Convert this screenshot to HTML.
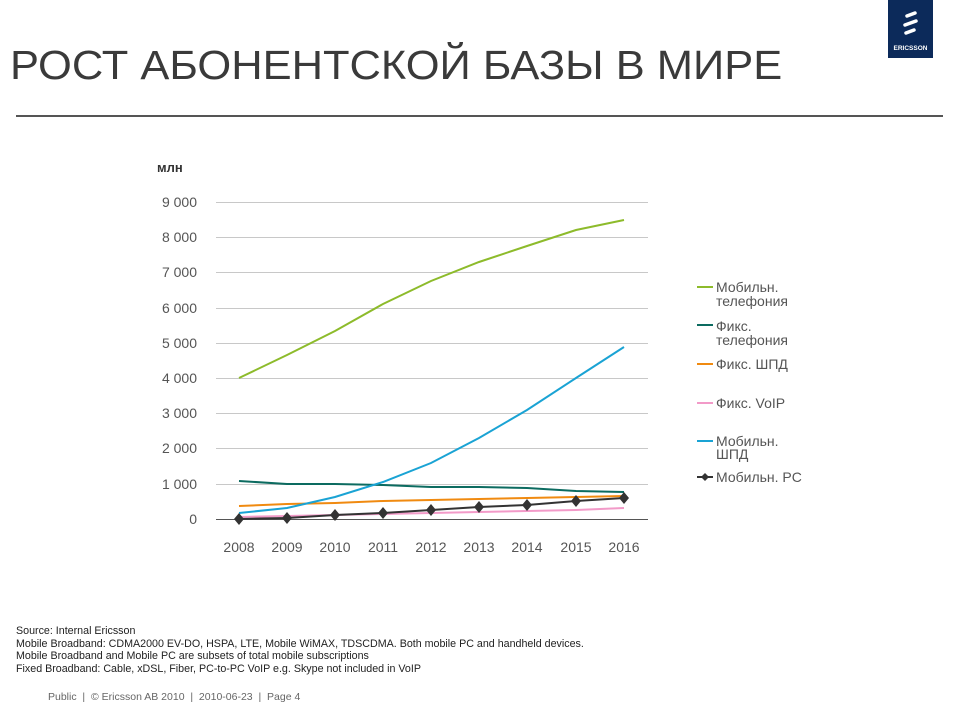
<!DOCTYPE html>
<html><head><meta charset="utf-8"><style>
body{margin:0;width:960px;height:720px;background:#fff;font-family:"Liberation Sans",sans-serif;overflow:hidden;position:relative}
.t{position:absolute;left:10px;top:42px;font-size:41px;color:#3a3a3a;transform:scaleX(1.06);transform-origin:left;font-weight:normal;white-space:nowrap}
.logo{position:absolute;left:888px;top:0;width:45px;height:58px;background:#0c2a5a}
.rule{position:absolute;left:16px;top:115px;width:927px;height:2px;background:#555}
.src{position:absolute;left:16px;top:625px;font-size:10.7px;line-height:12.5px;color:#222;white-space:nowrap}
.ft{position:absolute;left:48px;top:691px;font-size:10.5px;color:#666}
</style></head><body>
<div class="t">РОСТ АБОНЕНТСКОЙ БАЗЫ В МИРЕ</div>
<div class="logo"><svg width="45" height="58"><g fill="none" stroke="#fff" stroke-width="3.5" stroke-linecap="round"><path d="M19 16 L27 13"/><path d="M17 25 L28 21"/><path d="M18 33 L26 30"/></g><text x="22.5" y="50" fill="#fff" font-size="6.5" font-weight="bold" text-anchor="middle" font-family="Liberation Sans">ERICSSON</text></svg></div>
<div class="rule"></div>
<svg width="960" height="720" style="position:absolute;left:0;top:0" font-family="Liberation Sans">
<text x="157" y="172" font-size="13" font-weight="bold" fill="#333">млн</text>
<g stroke="#c8c8c8" stroke-width="1">
<line x1="216" x2="648" y1="202.5" y2="202.5"/><line x1="216" x2="648" y1="237.5" y2="237.5"/><line x1="216" x2="648" y1="272.5" y2="272.5"/><line x1="216" x2="648" y1="308.5" y2="308.5"/><line x1="216" x2="648" y1="343.5" y2="343.5"/><line x1="216" x2="648" y1="378.5" y2="378.5"/><line x1="216" x2="648" y1="413.5" y2="413.5"/><line x1="216" x2="648" y1="448.5" y2="448.5"/><line x1="216" x2="648" y1="484.5" y2="484.5"/>
</g>
<line x1="216" x2="648" y1="519.5" y2="519.5" stroke="#555"/>
<g font-size="14" fill="#555" text-anchor="end">
<text x="197" y="207">9 000</text><text x="197" y="242">8 000</text><text x="197" y="277">7 000</text><text x="197" y="313">6 000</text><text x="197" y="348">5 000</text><text x="197" y="383">4 000</text><text x="197" y="418">3 000</text><text x="197" y="453">2 000</text><text x="197" y="489">1 000</text><text x="197" y="524">0</text>
</g>
<g font-size="14" fill="#555" text-anchor="middle">
<text x="239" y="552">2008</text><text x="287" y="552">2009</text><text x="335" y="552">2010</text><text x="383" y="552">2011</text><text x="431" y="552">2012</text><text x="479" y="552">2013</text><text x="527" y="552">2014</text><text x="576" y="552">2015</text><text x="624" y="552">2016</text>
</g>
<g fill="none" stroke-width="2">
<polyline stroke="#8dbb2b" points="239,378 287,355 335,331 383,304 431,281 479,262 527,246 576,230 624,220"/>
<polyline stroke="#0c6b60" points="239,481 287,484 335,484 383,485 431,487 479,487 527,488 576,491 624,492"/>
<polyline stroke="#f08a10" points="239,506 287,504 335,503 383,501 431,500 479,499 527,498 576,497 624,496"/>
<polyline stroke="#f29ac8" points="239,517 287,516 335,515 383,514 431,513 479,512 527,511 576,510 624,508"/>
<polyline stroke="#1aa3d4" points="239,513 287,508 335,497 383,482 431,463 479,438 527,410 576,378 624,347"/>
<polyline stroke="#333" points="239,519 287,518 335,515 383,513 431,510 479,507 527,505 576,501 624,498"/>
</g>
<g fill="#333">
<path d="M239 513l5 6-5 6-5-6z"/><path d="M287 512l5 6-5 6-5-6z"/><path d="M335 509l5 6-5 6-5-6z"/><path d="M383 507l5 6-5 6-5-6z"/><path d="M431 504l5 6-5 6-5-6z"/><path d="M479 501l5 6-5 6-5-6z"/><path d="M527 499l5 6-5 6-5-6z"/><path d="M576 495l5 6-5 6-5-6z"/><path d="M624 492l5 6-5 6-5-6z"/>
</g>
<g stroke-width="2">
<line x1="697" x2="713" y1="287" y2="287" stroke="#8dbb2b"/>
<line x1="697" x2="713" y1="325" y2="325" stroke="#0c6b60"/>
<line x1="697" x2="713" y1="364" y2="364" stroke="#f08a10"/>
<line x1="697" x2="713" y1="403" y2="403" stroke="#f29ac8"/>
<line x1="697" x2="713" y1="441" y2="441" stroke="#1aa3d4"/>
<line x1="697" x2="713" y1="477" y2="477" stroke="#333"/>
</g>
<path d="M705 473l4 4-4 4-4-4z" fill="#333"/>
<g font-size="14" fill="#555">
<text x="716" y="292">Мобильн.</text><text x="716" y="306">телефония</text>
<text x="716" y="331">Фикс.</text><text x="716" y="345">телефония</text>
<text x="716" y="369">Фикс. ШПД</text>
<text x="716" y="408">Фикс. VoIP</text>
<text x="716" y="446">Мобильн.</text><text x="716" y="459">ШПД</text>
<text x="716" y="482">Мобильн. PC</text>
</g>
</svg>
<div class="src">Source: Internal Ericsson<br>Mobile Broadband: CDMA2000 EV-DO, HSPA, LTE, Mobile WiMAX, TDSCDMA. Both mobile PC and handheld devices.<br>Mobile Broadband and Mobile PC are subsets of total mobile subscriptions<br>Fixed Broadband: Cable, xDSL, Fiber, PC-to-PC VoIP e.g. Skype not included in VoIP</div>
<div class="ft">Public &nbsp;|&nbsp; © Ericsson AB 2010 &nbsp;|&nbsp; 2010-06-23 &nbsp;|&nbsp; Page 4</div>
</body></html>
